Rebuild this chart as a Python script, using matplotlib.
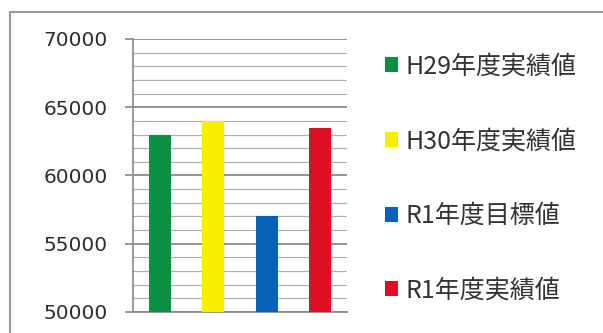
import matplotlib.pyplot as plt
from matplotlib.patches import Patch, Rectangle
from matplotlib.ticker import MultipleLocator

# Values per fiscal year
labels = ['H29年度実績値', 'H30年度実績値', 'R1年度目標値', 'R1年度実績値']
values = [63000, 64000, 57000, 63500]
colors = ['#0a8f45', '#f7ee00', '#0a62b8', '#dd0f22']
y_ticks = [50000, 55000, 60000, 65000, 70000]

fig = plt.figure(figsize=(6.03, 3.33), dpi=100)
ax = fig.add_axes([0.2206, 0.0631, 0.3549, 0.8198])

x = range(len(values))
ax.bar(x, values, width=0.41, color=colors, zorder=3)

ax.set_xlim(-0.5, len(values) - 0.5)
ax.set_ylim(50000, 70000)
ax.set_yticks(y_ticks)
ax.set_yticklabels([str(v) for v in y_ticks], fontsize=14.5, color='#2e2e2e',
                   family='DejaVu Sans')
ax.yaxis.set_minor_locator(MultipleLocator(1000))
ax.tick_params(axis='y', which='major', length=6, width=1.2, color='#888888', pad=12)
ax.tick_params(axis='y', which='minor', length=0)
ax.set_xticks([])

# gridlines: dark every 5000, light every 1000
ax.grid(axis='y', which='major', color='#8a8a8a', lw=1.3, zorder=1)
ax.grid(axis='y', which='minor', color='#b0b0b0', lw=0.9, zorder=1)

for side in ['top', 'right']:
    ax.spines[side].set_visible(False)
ax.spines['left'].set_color('#888888')
ax.spines['left'].set_linewidth(1.2)
ax.spines['bottom'].set_color('#8a8a8a')
ax.spines['bottom'].set_linewidth(1.3)

handles = [Patch(facecolor=c, edgecolor='none') for c in colors]
fig.legend(handles, labels, loc='upper left', bbox_to_anchor=(372 / 603, 1 - 41 / 333),
           frameon=False, borderpad=0, labelspacing=1.95,
           handlelength=0.55, handleheight=0.55, handletextpad=0.3,
           prop={'family': ['Noto Sans CJK JP'], 'size': 18}, labelcolor='#333333')

# chart frame
fig.patches.append(Rectangle((10 / 603, -0.05), 1.2, 1 - 12 / 333 + 0.05,
                             transform=fig.transFigure, fill=False,
                             edgecolor='#9a9a9a', lw=1.5))

fig.savefig('out.png', dpi=100, facecolor='white')
